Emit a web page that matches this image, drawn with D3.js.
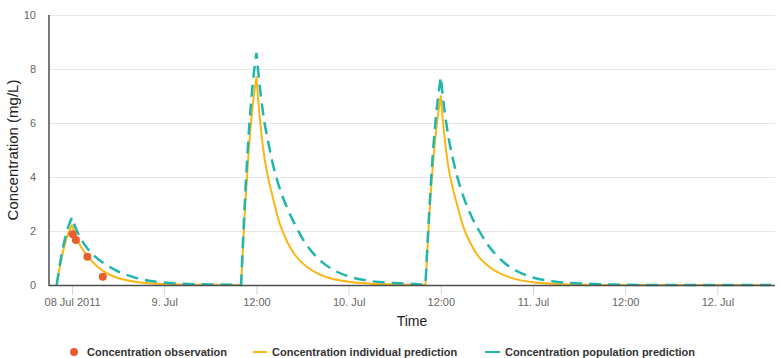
<!DOCTYPE html>
<html>
<head>
<meta charset="utf-8">
<script src="https://cdn.jsdelivr.net/npm/d3@7/dist/d3.min.js"></script>
<style>
  html, body { margin: 0; padding: 0; background: #ffffff; }
  svg { display: block; font-family: "Liberation Sans", Arial, sans-serif; }
</style>
</head>
<body>
<svg id="chart" width="780" height="358"></svg>
<script>
// ---------------- data ----------------
const predTimes = [
  "2011-07-08 10:00","2011-07-08 10:30","2011-07-08 11:00","2011-07-08 11:30","2011-07-08 12:00",
  "2011-07-08 12:15","2011-07-08 12:30","2011-07-08 13:00","2011-07-08 13:30","2011-07-08 14:00",
  "2011-07-08 15:00","2011-07-08 16:00","2011-07-08 17:00","2011-07-08 18:00","2011-07-08 20:00",
  "2011-07-08 22:00","2011-07-09 00:00","2011-07-09 03:00","2011-07-09 06:00","2011-07-09 09:00",
  "2011-07-09 10:00","2011-07-09 10:30","2011-07-09 11:00","2011-07-09 11:30","2011-07-09 12:00",
  "2011-07-09 12:15","2011-07-09 12:30","2011-07-09 13:00","2011-07-09 13:30","2011-07-09 14:00",
  "2011-07-09 15:00","2011-07-09 16:00","2011-07-09 17:00","2011-07-09 18:00","2011-07-09 20:00",
  "2011-07-09 22:00","2011-07-10 00:00","2011-07-10 03:00","2011-07-10 06:00","2011-07-10 09:00",
  "2011-07-10 10:00","2011-07-10 10:30","2011-07-10 11:00","2011-07-10 11:30","2011-07-10 12:00",
  "2011-07-10 12:15","2011-07-10 12:30","2011-07-10 13:00","2011-07-10 13:30","2011-07-10 14:00",
  "2011-07-10 15:00","2011-07-10 16:00","2011-07-10 17:00","2011-07-10 18:00","2011-07-10 20:00",
  "2011-07-10 22:00","2011-07-11 00:00","2011-07-11 03:00","2011-07-11 06:00","2011-07-11 09:00",
  "2011-07-11 10:00","2011-07-11 12:00","2011-07-11 15:00","2011-07-12 07:00"
];
const individualPrediction = [
  0, 0.8, 1.44, 1.9, 2.22,
  2.0, 1.8, 1.5, 1.27, 1.08, 0.76, 0.53, 0.37, 0.26, 0.13, 0.065, 0.035, 0.013, 0.005, 0,
  0, 2.77, 5.0, 6.6, 7.7,
  6.8, 6.0, 4.8, 4.0, 3.4, 2.3, 1.6, 1.12, 0.81, 0.42, 0.22, 0.12, 0.05, 0.02, 0,
  0, 2.52, 4.55, 6.0, 7.0,
  6.15, 5.45, 4.35, 3.65, 3.1, 2.1, 1.47, 1.02, 0.74, 0.39, 0.2, 0.1, 0.04, 0.015, 0,
  0, 0, 0, 0
];
const populationPrediction = [
  0, 0.9, 1.62, 2.15, 2.5,
  2.28, 2.09, 1.78, 1.55, 1.35, 1.05, 0.83, 0.65, 0.5, 0.29, 0.16, 0.09, 0.04, 0.02, 0.01,
  0, 3.1, 5.6, 7.4, 8.6,
  7.85, 7.2, 6.1, 5.35, 4.65, 3.6, 2.85, 2.25, 1.72, 0.99, 0.56, 0.32, 0.14, 0.07, 0.03,
  0, 2.77, 5.0, 6.6, 7.7,
  7.0, 6.43, 5.47, 4.77, 4.16, 3.23, 2.54, 2.0, 1.54, 0.89, 0.5, 0.28, 0.12, 0.06, 0.03,
  0.02, 0.01, 0, 0
];
const obsTimes = ["2011-07-08 12:05","2011-07-08 12:30","2011-07-08 14:00","2011-07-08 16:00"];
const obsValues = [1.88, 1.67, 1.05, 0.31];

const xTickTimes = ["2011-07-08 12:00","2011-07-09 00:00","2011-07-09 12:00","2011-07-10 00:00",
                    "2011-07-10 12:00","2011-07-11 00:00","2011-07-11 12:00","2011-07-12 00:00"];
const xTickLabels = ["08 Jul 2011","9. Jul","12:00","10. Jul","12:00","11. Jul","12:00","12. Jul"];
const yTicks = [0, 2, 4, 6, 8, 10];
const xDomain = ["2011-07-08 09:00","2011-07-12 07:30"];

const seriesNames = ["Concentration observation","Concentration individual prediction","Concentration population prediction"];
const colors = { obs: "#e85e2d", ind: "#fbb614", pop: "#20b5ad" };

// ---------------- chart ----------------
const parse = d3.utcParse("%Y-%m-%d %H:%M");
const svg = d3.select("#chart");
const plot = { left: 49, right: 775, top: 15, bottom: 285 };

const x = d3.scaleUtc().domain(xDomain.map(parse)).range([plot.left, plot.right]);
const y = d3.scaleLinear().domain([0, 10]).range([plot.bottom, plot.top]);

// grid
svg.append("g").selectAll("line").data(yTicks).join("line")
  .attr("x1", plot.left).attr("x2", plot.right)
  .attr("y1", d => y(d) + 0.5).attr("y2", d => y(d) + 0.5)
  .attr("stroke", "#e6e6e6").attr("stroke-width", 1);

// y axis labels
svg.append("g").selectAll("text").data(yTicks).join("text")
  .attr("x", 36).attr("y", d => y(d)).attr("dy", "0.35em")
  .attr("text-anchor", "end").attr("font-size", 11).attr("fill", "#666")
  .text(d => d);

// x axis
const xAxis = d3.axisBottom(x)
  .tickValues(xTickTimes.map(parse))
  .tickFormat((d, i) => xTickLabels[i])
  .tickSizeInner(10).tickSizeOuter(0).tickPadding(3);
const gx = svg.append("g").attr("transform", `translate(0,${plot.bottom})`).call(xAxis);
gx.select(".domain").remove();
gx.selectAll(".tick line").attr("stroke", "#ccd6eb");
gx.selectAll(".tick text").attr("font-size", 11).attr("fill", "#666")
  .attr("font-family", "'Liberation Sans', Arial, sans-serif");

// series
const indData = predTimes.map((t, i) => ({ t: parse(t), v: individualPrediction[i] }));
const popData = predTimes.map((t, i) => ({ t: parse(t), v: populationPrediction[i] }));

// build a smooth path, keeping sharp corners where direction changes
function pathFor(data) {
  const line = d3.line().x(d => x(d.t)).y(d => y(d.v)).curve(d3.curveMonotoneX);
  const sgn = v => (v > 1e-9 ? 1 : v < -1e-9 ? -1 : 0);
  const segs = [];
  let start = 0;
  for (let i = 1; i < data.length - 1; i++) {
    const a = sgn(data[i].v - data[i - 1].v), b = sgn(data[i + 1].v - data[i].v);
    if (a !== b) { segs.push(data.slice(start, i + 1)); start = i; }
  }
  segs.push(data.slice(start));
  return segs.map((s, k) => {
    const p = line(s);
    return k === 0 ? p : p.replace(/^M/, "L");
  }).join("");
}

svg.append("path").attr("d", pathFor(indData))
  .attr("fill", "none").attr("stroke", colors.ind).attr("stroke-width", 2)
  .attr("stroke-linejoin", "round");
svg.append("path").attr("d", pathFor(popData))
  .attr("fill", "none").attr("stroke", colors.pop).attr("stroke-width", 2.5)
  .attr("stroke-dasharray", "12,7");

// axis lines
svg.append("line").attr("x1", plot.left).attr("x2", plot.right)
  .attr("y1", plot.bottom + 0.5).attr("y2", plot.bottom + 0.5)
  .attr("stroke", "#4d4d4d").attr("stroke-width", 1.5);
svg.append("line").attr("x1", plot.left).attr("x2", plot.left)
  .attr("y1", plot.top).attr("y2", plot.bottom + 1)
  .attr("stroke", "#4d4d4d").attr("stroke-width", 1.5);

// observations
svg.append("g").selectAll("circle").data(obsTimes.map((t, i) => ({ t: parse(t), v: obsValues[i] })))
  .join("circle").attr("cx", d => x(d.t)).attr("cy", d => y(d.v)).attr("r", 4)
  .attr("fill", colors.obs);

// axis titles
svg.append("text").attr("transform", `translate(13,${(plot.top + plot.bottom) / 2}) rotate(-90)`)
  .attr("text-anchor", "middle").attr("dy", "0.35em").attr("font-size", 15).attr("fill", "#222")
  .text("Concentration (mg/L)");
svg.append("text").attr("x", (plot.left + plot.right) / 2).attr("y", 326)
  .attr("text-anchor", "middle").attr("font-size", 14).attr("fill", "#222")
  .text("Time");

// legend
const lg = svg.append("g").attr("font-size", 11).attr("font-weight", "bold").attr("fill", "#333");
lg.append("circle").attr("cx", 74).attr("cy", 352).attr("r", 4).attr("fill", colors.obs);
lg.append("text").attr("x", 87).attr("y", 356).text(seriesNames[0]);
lg.append("line").attr("x1", 253).attr("x2", 267).attr("y1", 352).attr("y2", 352)
  .attr("stroke", colors.ind).attr("stroke-width", 2);
lg.append("text").attr("x", 272).attr("y", 356).text(seriesNames[1]);
lg.append("line").attr("x1", 485).attr("x2", 500).attr("y1", 352).attr("y2", 352)
  .attr("stroke", colors.pop).attr("stroke-width", 2);
lg.append("text").attr("x", 505).attr("y", 356).text(seriesNames[2]);
</script>
</body>
</html>
